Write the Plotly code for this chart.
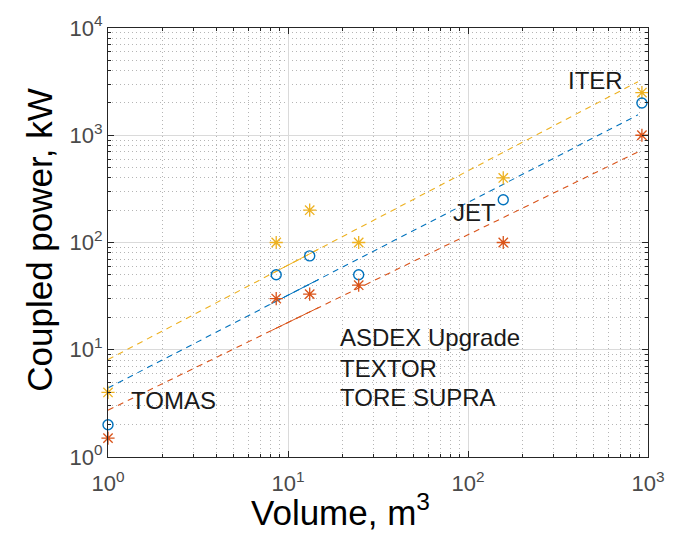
import numpy as np
import plotly.graph_objects as go

# ---- data ----
devices = ["TOMAS", "ASDEX Upgrade", "TEXTOR", "TORE SUPRA", "JET", "ITER"]
volume = [1.0, 8.6, 13.2, 24.7, 157, 925]          # m^3
power_high = [4, 100, 200, 100, 400, 2500]          # kW, yellow stars
power_mid = [2, 50, 75, 50, 250, 2000]              # kW, blue circles
power_low = [1.5, 30, 33, 40, 100, 1000]            # kW, red stars

# power-law fits P = a * V^b
fit_names = ["high", "mid", "low"]
fit_a = [8.1, 4.4, 2.73]
fit_b = [0.88, 0.865, 0.818]
fit_vrange = [1.0, 880.0]
# stretch where the reference renders the dashed fits as a continuous stroke
solid_vrange = [8.1, 14.8]

tick_x_vals = [1, 10, 100, 1000]
tick_x_text = ["10<sup>0</sup>", "10<sup>1</sup>", "10<sup>2</sup>", "10<sup>3</sup>"]
tick_y_vals = [1, 10, 100, 1000, 10000]
tick_y_text = ["10<sup>0</sup>", "10<sup>1</sup>", "10<sup>2</sup>", "10<sup>3</sup>", "10<sup>4</sup>"]

YEL = "#EDB120"
RED = "#D95319"
BLU = "#0072BD"
fit_colors = [YEL, BLU, RED]

FONT = "Liberation Sans, Arial, sans-serif"

fig = go.Figure()

# fitted dashed lines
vfit = np.logspace(np.log10(fit_vrange[0]), np.log10(fit_vrange[1]), 200)
vsol = np.logspace(np.log10(solid_vrange[0]), np.log10(solid_vrange[1]), 20)
for a, b, c in zip(fit_a, fit_b, fit_colors):
    fig.add_trace(go.Scatter(x=vfit, y=a * vfit ** b, mode="lines",
                             line=dict(color=c, width=1.1, dash="6px,5px"),
                             showlegend=False, hoverinfo="skip"))
    fig.add_trace(go.Scatter(x=vsol, y=a * vsol ** b, mode="lines",
                             line=dict(color=c, width=1.0),
                             showlegend=False, hoverinfo="skip"))

# data markers
fig.add_trace(go.Scatter(x=volume, y=power_high, mode="markers", cliponaxis=False,
                         marker=dict(symbol="asterisk-open", size=11, color=YEL,
                                     line=dict(color=YEL, width=1.3)),
                         showlegend=False))
fig.add_trace(go.Scatter(x=volume, y=power_mid, mode="markers", cliponaxis=False,
                         marker=dict(symbol="circle-open", size=10, color=BLU,
                                     line=dict(color=BLU, width=1.4)),
                         showlegend=False))
fig.add_trace(go.Scatter(x=volume, y=power_low, mode="markers", cliponaxis=False,
                         marker=dict(symbol="asterisk-open", size=11, color=RED,
                                     line=dict(color=RED, width=1.3)),
                         showlegend=False))

# device labels (data coordinates)
labels = [
    ("TOMAS", 1.3, 3.4),
    ("JET", 80, 192),
    ("ITER", 350, 3230),
    ("ASDEX Upgrade", 19.0, 12.9),
    ("TEXTOR", 19.0, 6.67),
    ("TORE SUPRA", 19.0, 3.55),
]
for txt, xv, yv in labels:
    fig.add_annotation(x=np.log10(xv), y=np.log10(yv), text=txt, showarrow=False,
                       xanchor="left", yanchor="middle",
                       font=dict(family=FONT, size=24, color="#1a1a1a"))

# axis titles
fig.add_annotation(x=0.431, y=-0.123, xref="paper", yref="paper",
                   text="Volume, m<sup>3</sup>", showarrow=False,
                   xanchor="center", yanchor="middle",
                   font=dict(family=FONT, size=35, color="black"))
fig.add_annotation(x=-0.127, y=0.505, xref="paper", yref="paper",
                   text="Coupled power, kW", showarrow=False, textangle=-90,
                   xanchor="center", yanchor="middle",
                   font=dict(family=FONT, size=35, color="black"))

axis_common = dict(
    type="log",
    showline=True, linecolor="#262626", linewidth=1, mirror="ticks",
    ticks="inside", ticklen=6, tickcolor="#262626",
    showgrid=True, gridcolor="#dadada", gridwidth=1,
    zeroline=False,
    tickfont=dict(family=FONT, size=22, color="#4a4a4a"),
    minor=dict(ticks="inside", ticklen=3, tickcolor="#262626", dtick="D1",
               showgrid=True, gridcolor="#b5b5b5", griddash="1px,3px", gridwidth=1),
)

fig.update_xaxes(range=[0, 3], tickvals=tick_x_vals, ticktext=tick_x_text,
                 ticklabelstandoff=7, **axis_common)
fig.update_yaxes(range=[0, 4], tickvals=tick_y_vals, ticktext=tick_y_text,
                 **axis_common)

fig.update_layout(
    width=677, height=533,
    margin=dict(l=108, r=19, t=18, b=76),
    plot_bgcolor="white", paper_bgcolor="white",
    font=dict(family=FONT),
)

fig.write_html("out.html")
